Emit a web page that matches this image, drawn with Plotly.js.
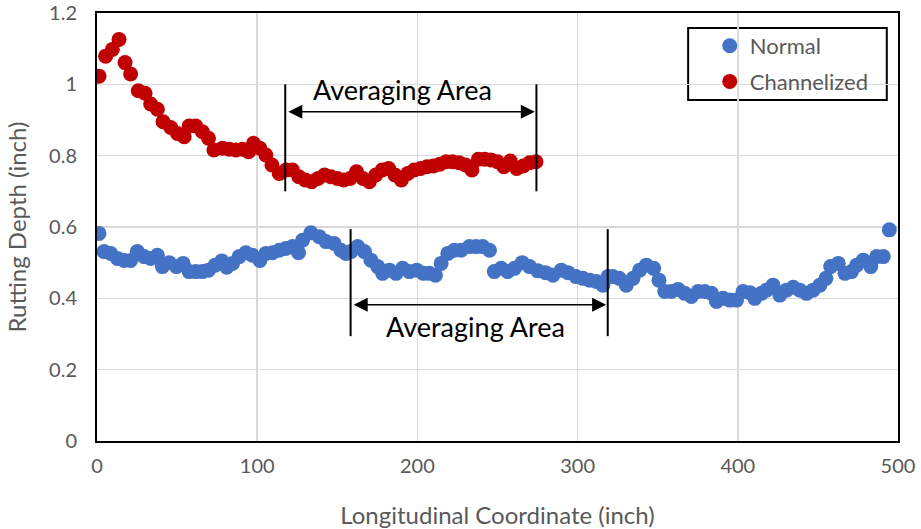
<!DOCTYPE html>
<html><head><meta charset="utf-8">
<script src="https://cdn.plot.ly/plotly-3.0.1.min.js"></script>
<style>html,body{margin:0;padding:0;background:#fff}#c{width:921px;height:529px}</style>
</head><body><div id="c"></div>
<script>
const redX = [1.25,5.4,9.6,13.75,17.5,21,25.8,30,33.5,37.7,41.25,46,50.2,54.4,57.5,61.7,65.8,69.6,73,78.3,82.5,86.7,90.8,94.6,97.7,101.7,105.4,109.2,113.75,118,122,126,130,134,138,142,146,150,154,158,162,166,170,174,178,182,186,190,194,198,202,206,210,214,218,222,226,230,234,238,242,246,250,254,258,262,266,270,274];
const redY = [1.023,1.079,1.098,1.126,1.061,1.029,0.982,0.975,0.945,0.930,0.895,0.879,0.862,0.853,0.883,0.883,0.867,0.849,0.816,0.821,0.818,0.816,0.818,0.811,0.835,0.821,0.802,0.774,0.750,0.760,0.760,0.741,0.732,0.727,0.736,0.746,0.741,0.736,0.732,0.736,0.755,0.736,0.727,0.746,0.760,0.764,0.746,0.732,0.750,0.760,0.764,0.769,0.771,0.776,0.783,0.783,0.780,0.774,0.760,0.790,0.790,0.788,0.783,0.769,0.785,0.764,0.771,0.780,0.783];
const blueX = [1.25,4.4,8.5,12.7,16.9,21,25.2,29.4,33.5,37.7,40.8,45,49.6,53.75,57.5,61.7,65.8,69.6,73.75,77.9,81,84.6,88.75,92.9,97,101.7,105.4,109.6,113.75,117.9,122,125.8,128.3,133.5,138.75,142.9,148,152.3,155.4,158.5,162.7,166.9,171,175.2,178.3,182.5,186.7,190.8,195,199.6,203.75,207.5,211.25,214.8,219,223,227.3,232.5,236.7,240.8,245,248,252.3,256.4,260.6,265.4,270,275.2,280,284.6,289.8,294,299,303.3,307.5,311.7,315.8,319,322,326,330.4,334.6,338.75,342.9,347.5,350.8,354.4,358.5,362.7,366.9,371,375.2,379.4,383.6,386.7,390.8,395,399.2,403.3,407.5,410.6,414.8,417.9,422,426.25,430.4,434.6,438.75,442.9,447,451.25,455,458,462.7,466.9,471,474.2,478.3,483,486.7,490.8,494.6];
const blueY = [0.582,0.531,0.526,0.512,0.506,0.506,0.531,0.517,0.512,0.521,0.489,0.500,0.489,0.498,0.475,0.475,0.475,0.479,0.493,0.505,0.487,0.498,0.517,0.528,0.521,0.506,0.526,0.528,0.535,0.540,0.545,0.528,0.563,0.584,0.573,0.559,0.554,0.535,0.526,0.531,0.545,0.531,0.507,0.489,0.470,0.479,0.470,0.484,0.475,0.479,0.470,0.470,0.465,0.498,0.526,0.535,0.535,0.545,0.545,0.545,0.535,0.475,0.484,0.475,0.484,0.500,0.489,0.477,0.472,0.465,0.479,0.472,0.461,0.456,0.451,0.447,0.437,0.461,0.461,0.456,0.437,0.456,0.479,0.493,0.484,0.451,0.419,0.419,0.425,0.414,0.405,0.419,0.419,0.414,0.391,0.400,0.395,0.395,0.419,0.416,0.400,0.414,0.423,0.437,0.409,0.423,0.431,0.423,0.414,0.423,0.437,0.456,0.489,0.498,0.470,0.475,0.493,0.507,0.489,0.517,0.517,0.592];
const seriesNames = ['Normal','Channelized'];
const redAreaX = [117.5, 274.3];
const redAreaLineY = [0.70, 1.0];
const redArrowY = 0.923;
const redLabel = {x: 191, y: 0.985, text: 'Averaging Area'};
const blueAreaX = [158.3, 318.8];
const blueAreaLineY = [0.294, 0.594];
const blueArrowY = 0.382;
const blueLabel = {x: 236, y: 0.322, text: 'Averaging Area'};

const FONT = 'Lato, "Open Sans", sans-serif';
const GRAY = '#595959';
const traces = [
  {x: blueX, y: blueY, name: seriesNames[0], mode: 'markers', type: 'scatter', legendgroup: 'a',
   marker: {color: '#4472C4', size: 15}},
  {x: redX, y: redY, name: seriesNames[1], mode: 'markers', type: 'scatter', legendgroup: 'b',
   marker: {color: '#C00000', size: 15}}
];
function vline(x, ys) {
  return {type: 'line', xref: 'x', yref: 'y', x0: x, x1: x, y0: ys[0], y1: ys[1],
          line: {color: '#000', width: 2}};
}
function dblArrow(xs, y) {
  return {x: xs[1] - 1, y: y, ax: xs[0] + 1, ay: y, xref: 'x', yref: 'y', axref: 'x', ayref: 'y',
          text: '', showarrow: true, arrowhead: 2, startarrowhead: 2, arrowside: 'end+start',
          arrowsize: 2, startarrowsize: 2, arrowwidth: 1.4, arrowcolor: '#000'};
}
function label(l) {
  return {x: l.x, y: l.y, xref: 'x', yref: 'y', text: l.text, showarrow: false,
          font: {family: FONT, size: 27, color: '#000'}};
}
const layout = {
  width: 921, height: 529,
  margin: {l: 97, r: 23, t: 13, b: 88},
  paper_bgcolor: '#fff', plot_bgcolor: '#fff',
  font: {family: FONT, color: GRAY, size: 20},
  showlegend: true,
  legend: {x: 0.765, y: 0.972, xanchor: 'left', yanchor: 'top', bgcolor: 'rgba(0,0,0,0)',
           borderwidth: 0, font: {family: FONT, size: 22, color: GRAY},
           itemsizing: 'trace', tracegroupgap: 4},
  xaxis: {range: [0, 500], dtick: 100, tick0: 0, showgrid: true, gridcolor: '#d9d9d9', gridwidth: 1.5,
          zeroline: false, showline: true, linecolor: '#000', linewidth: 2, mirror: true,
          ticks: 'outside', ticklen: 6, tickcolor: 'rgba(0,0,0,0)',
          tickfont: {family: FONT, size: 20, color: GRAY},
          title: {text: 'Longitudinal Coordinate (inch)', font: {family: FONT, size: 24, color: GRAY}, standoff: 31}},
  yaxis: {range: [0, 1.2], dtick: 0.2, tick0: 0, showgrid: true, gridcolor: '#d9d9d9', gridwidth: 1.5,
          zeroline: false, showline: true, linecolor: '#000', linewidth: 2, mirror: true,
          ticks: 'outside', ticklen: 14, tickcolor: 'rgba(0,0,0,0)',
          tickfont: {family: FONT, size: 20, color: GRAY},
          title: {text: 'Rutting Depth (inch)', font: {family: FONT, size: 24, color: GRAY}, standoff: 16}},
  shapes: [vline(redAreaX[0], redAreaLineY), vline(redAreaX[1], redAreaLineY),
           vline(blueAreaX[0], blueAreaLineY), vline(blueAreaX[1], blueAreaLineY),
           {type: 'rect', xref: 'paper', yref: 'paper', x0: 0.738, x1: 0.986, y0: 0.797, y1: 0.965,
            layer: 'between', fillcolor: '#fff', line: {color: '#000', width: 2}}],
  annotations: [dblArrow(redAreaX, redArrowY), dblArrow(blueAreaX, blueArrowY), label(redLabel), label(blueLabel)]
};
Plotly.newPlot('c', traces, layout, {displayModeBar: false, staticPlot: true});
</script></body></html>
